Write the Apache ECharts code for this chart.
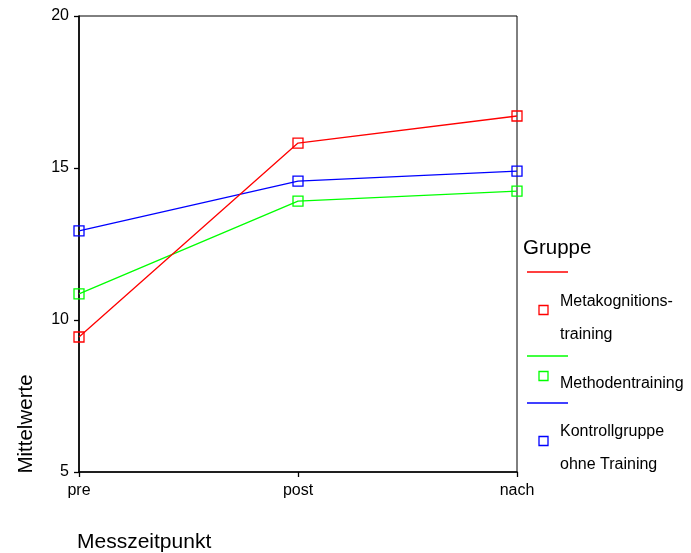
<!DOCTYPE html>
<html><head><meta charset="utf-8">
<script src="https://cdn.jsdelivr.net/npm/echarts@6/dist/echarts.min.js"></script>
<style>html,body{margin:0;padding:0;background:#fff}#c{width:691px;height:553px}</style>
</head><body><div id="c"></div>
<script>
var categories = ['pre', 'post', 'nach'];
var seriesNames = ['Metakognitions-\ntraining', 'Methodentraining', 'Kontrollgruppe\nohne Training'];
var seriesColors = ['#ff0000', '#00ff00', '#0000ff'];
var metaValues = [9.44, 15.82, 16.71];
var methodValues = [10.86, 13.91, 14.24];
var kontrollValues = [12.93, 14.57, 14.9];
var yTicks = [5, 10, 15, 20];

var FONT = 'Liberation Sans, Arial, sans-serif';
var allValues = [metaValues, methodValues, kontrollValues];

var series = allValues.map(function (vals, i) {
  return {
    name: seriesNames[i], type: 'line', data: vals,
    symbol: 'rect', symbolSize: 10, showSymbol: true,
    itemStyle: { color: 'rgba(255,255,255,0)', borderColor: seriesColors[i], borderWidth: 1.3 },
    lineStyle: { color: seriesColors[i], width: 1.3 },
    emphasis: { disabled: true }, animation: false, z: 5 - i
  };
});

var legendGraphics = [
  { type: 'text', x: 523, y: 248, style: { text: 'Gruppe', font: '20.5px ' + FONT, fill: '#000', textVerticalAlign: 'middle' } }
];
var lineYs = [272, 356, 403];
var sqYs = [310, 376, 441];
var txtYs = [[302, 335], [384], [432, 465]];
seriesNames.forEach(function (n, i) {
  legendGraphics.push({ type: 'line', shape: { x1: 527, y1: lineYs[i], x2: 568, y2: lineYs[i] }, style: { stroke: seriesColors[i], lineWidth: 1.3 } });
  legendGraphics.push({ type: 'rect', shape: { x: 539, y: sqYs[i] - 4.5, width: 9, height: 9 }, style: { stroke: seriesColors[i], fill: '#fff', lineWidth: 1.3 } });
  n.split('\n').forEach(function (t, j) {
    legendGraphics.push({ type: 'text', x: 560, y: txtYs[i][j], style: { text: t, font: '16px ' + FONT, fill: '#000', textVerticalAlign: 'middle' } });
  });
});
legendGraphics.push({ type: 'text', x: 26, y: 424, rotation: Math.PI / 2, style: { text: 'Mittelwerte', font: '20.5px ' + FONT, fill: '#000', textAlign: 'center', textVerticalAlign: 'middle' } });
legendGraphics.push({ type: 'text', x: 77, y: 542, style: { text: 'Messzeitpunkt', font: '21px ' + FONT, fill: '#000', textVerticalAlign: 'middle' } });

var chart = echarts.init(document.getElementById('c'), null, { renderer: 'canvas' });
chart.setOption({
  animation: false,
  backgroundColor: '#fff',
  grid: { left: 79, top: 16, right: 174, bottom: 81, show: true, borderColor: '#000', borderWidth: 1, containLabel: false },
  xAxis: {
    type: 'category', data: categories, boundaryGap: false,
    axisLine: { lineStyle: { color: '#000', width: 1.6 } },
    axisTick: { show: true, alignWithLabel: true, length: 5, lineStyle: { color: '#000', width: 1.3 } },
    axisLabel: { color: '#000', fontSize: 16, fontFamily: FONT, margin: 11 },
    splitLine: { show: false }
  },
  yAxis: {
    type: 'value', min: yTicks[0], max: yTicks[yTicks.length - 1], interval: 5,
    axisLine: { show: true, lineStyle: { color: '#000', width: 1.6 } },
    axisTick: { show: true, length: 5, lineStyle: { color: '#000', width: 1.3 } },
    axisLabel: { color: '#000', fontSize: 16, fontFamily: FONT, margin: 10 },
    splitLine: { show: false }
  },
  series: series,
  graphic: legendGraphics
});
</script></body></html>
